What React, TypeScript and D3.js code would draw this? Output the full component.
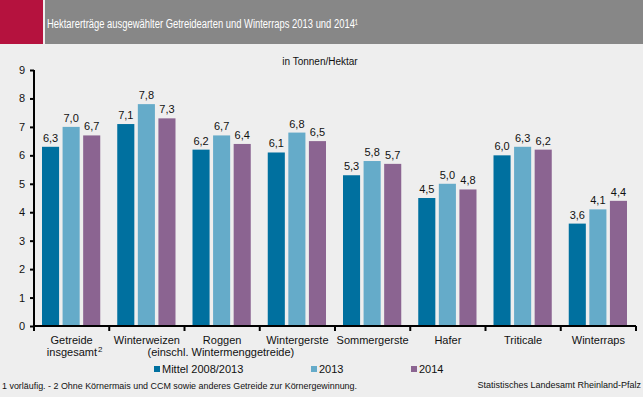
import React, { useEffect, useRef } from "react";
import * as d3 from "d3";

const categories = ["Getreide", "Winterweizen", "Roggen", "Wintergerste", "Sommergerste", "Hafer", "Triticale", "Winterraps"];
const subLabels = ["insgesamt", "", "", "", "", "", "", ""];
const series = ["Mittel 2008/2013", "2013", "2014"];
const mittel = [6.3, 7.1, 6.2, 6.1, 5.3, 4.5, 6.0, 3.6];
const y2013 = [7.0, 7.8, 6.7, 6.8, 5.8, 5.0, 6.3, 4.1];
const y2014 = [6.7, 7.3, 6.4, 6.5, 5.7, 4.8, 6.2, 4.4];
const yTicks = [0, 1, 2, 3, 4, 5, 6, 7, 8, 9];
const colors = ["#00709f", "#65abc9", "#8b6491"];

const W = 643;
const H = 397;
const FONT = "'Liberation Sans', Arial, sans-serif";

const App = () => {
  const ref = useRef<SVGSVGElement>(null);

  useEffect(() => {
    const svg = d3.select(ref.current);
    svg.selectAll("*").remove();

    svg.append("rect").attr("width", W).attr("height", H).attr("fill", "#eeeeee");

    // header
    svg.append("rect").attr("x", 0).attr("y", 0).attr("width", 43).attr("height", 44).attr("fill", "#b5123e");
    svg.append("rect").attr("x", 45).attr("y", 0).attr("width", W - 45).attr("height", 44).attr("fill", "#878787");
    svg.append("text")
      .attr("x", 47).attr("y", 28)
      .attr("fill", "#fff").attr("font-size", 12.5).attr("font-family", FONT)
      .attr("textLength", 311).attr("lengthAdjust", "spacingAndGlyphs")
      .text("Hektarerträge ausgewählter Getreidearten und Winterraps 2013 und 2014\u00b9");

    svg.append("text").attr("x", 320).attr("y", 65).attr("text-anchor", "middle")
      .attr("font-size", 10).attr("font-family", FONT).attr("fill", "#111")
      .text("in Tonnen/Hektar");

    const x = d3.scaleBand().domain(categories).range([34, 636]).paddingInner(0).paddingOuter(0);
    const xi = d3.scaleBand().domain(series).range([8, x.bandwidth() - 9]).paddingInner(0.17);
    const y = d3.scaleLinear().domain([0, 9]).range([326, 70]);

    const data = [mittel, y2013, y2014];

    series.forEach((s, si) => {
      const g = svg.append("g");
      g.selectAll("rect").data(categories).enter().append("rect")
        .attr("x", (c) => (x(c) as number) + (xi(s) as number))
        .attr("width", xi.bandwidth())
        .attr("y", (c, i) => y(data[si][i]))
        .attr("height", (c, i) => y(0) - y(data[si][i]))
        .attr("fill", colors[si]);
      g.selectAll("text").data(categories).enter().append("text")
        .attr("x", (c) => (x(c) as number) + (xi(s) as number) + xi.bandwidth() / 2)
        .attr("y", (c, i) => y(data[si][i]) - 5)
        .attr("text-anchor", "middle")
        .attr("font-size", 11).attr("font-family", FONT).attr("fill", "#111")
        .text((c, i) => d3.format(".1f")(data[si][i]).replace(".", ","));
    });

    // y axis
    const ya = svg.append("g").attr("transform", "translate(34,0)")
      .call(d3.axisLeft(y).tickValues(yTicks).tickSize(4).tickPadding(5).tickFormat(d3.format("d")));
    ya.select(".domain").attr("stroke", "#000").attr("stroke-width", 2).attr("d", "M0,70V331");
    ya.selectAll(".tick line").attr("stroke", "#000").attr("stroke-width", 2);
    ya.selectAll(".tick text").attr("font-size", 11).attr("font-family", FONT).attr("fill", "#111");

    // x axis
    svg.append("line").attr("x1", 34).attr("x2", 636).attr("y1", 326).attr("y2", 326)
      .attr("stroke", "#000").attr("stroke-width", 2);
    svg.append("g").selectAll("line").data(categories.slice(1).concat(["end"])).enter().append("line")
      .attr("x1", (c, i) => 34 + x.bandwidth() * (i + 1))
      .attr("x2", (c, i) => 34 + x.bandwidth() * (i + 1))
      .attr("y1", 326).attr("y2", 331)
      .attr("stroke", "#000").attr("stroke-width", 2);

    const cl = svg.append("g").attr("font-size", 11).attr("font-family", FONT).attr("fill", "#111").attr("text-anchor", "middle");
    categories.forEach((c, i) => {
      const cx = (x(c) as number) + x.bandwidth() / 2;
      cl.append("text").attr("x", cx).attr("y", 344).text(c);
      if (subLabels[i]) {
        const t = cl.append("text").attr("x", cx + 3).attr("y", 356);
        t.append("tspan").text(subLabels[i]);
        t.append("tspan").text("2").attr("font-size", 8).attr("dy", -4).attr("dx", 1);
      }
    });
    // Winterweizen extra line
    cl.append("text").attr("x", (x("Winterweizen") as number) + x.bandwidth() / 2 + 74).attr("y", 356)
      .text("(einschl. Wintermenggetreide)");

    // legend
    const legX = [154, 311, 411];
    series.forEach((s, i) => {
      svg.append("rect").attr("x", legX[i]).attr("y", 366).attr("width", 6).attr("height", 6).attr("fill", colors[i]);
      svg.append("text").attr("x", legX[i] + 8).attr("y", 373)
        .attr("font-size", 11).attr("font-family", FONT).attr("fill", "#111").text(s);
    });

    svg.append("text").attr("x", 2).attr("y", 389).attr("font-size", 9).attr("font-family", FONT).attr("fill", "#111")
      .attr("textLength", 355).attr("lengthAdjust", "spacingAndGlyphs")
      .text("1 vorläufig. - 2 Ohne Körnermais und CCM sowie anderes Getreide zur Körnergewinnung.");
    svg.append("text").attr("x", 641).attr("y", 388).attr("text-anchor", "end").attr("font-size", 9).attr("font-family", FONT).attr("fill", "#111")
      .text("Statistisches Landesamt Rheinland-Pfalz");
  }, []);

  return (
    <div style={{ position: "absolute", left: 0, top: 0 }}>
      <svg ref={ref} width={W} height={H} style={{ display: "block" }} />
    </div>
  );
};

export default App;
